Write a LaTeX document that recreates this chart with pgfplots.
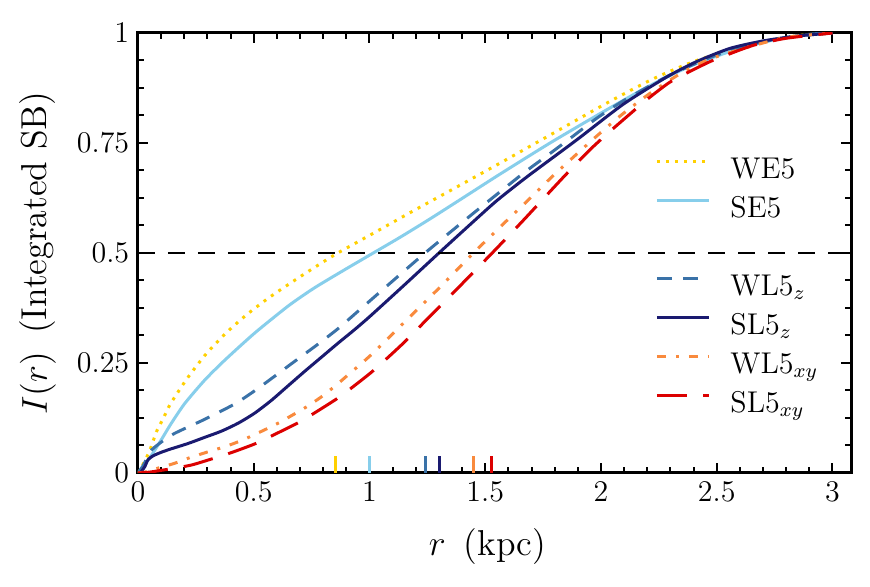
\documentclass[border=0pt]{standalone}
\usepackage{pgfplots}
\pgfplotsset{compat=1.18}
\definecolor{cWE}{RGB}{255,208,0}
\definecolor{cSE}{RGB}{135,206,235}
\definecolor{cWL}{RGB}{58,114,168}
\definecolor{cSL}{RGB}{26,26,112}
\definecolor{cWX}{RGB}{249,138,61}
\definecolor{cSX}{RGB}{220,0,0}
\newcommand\ls{\rule[-3.5pt]{0pt}{12.5pt}}
\begin{document}
\begin{tikzpicture}
\begin{axis}[
  at={(0pt,0pt)}, anchor=south west,
  scale only axis, width=285.2pt, height=176pt,
  xmin=0, xmax=3.08, ymin=0, ymax=1,
  xtick={0,0.5,1,1.5,2,2.5,3},
  xticklabels={0,0.5,1,1.5,2,2.5,3},
  ytick={0,0.25,0.5,0.75,1},
  yticklabels={0,0.25,0.5,0.75,1},
  minor x tick num=4, minor y tick num=3,
  major tick length=4pt, minor tick length=2.4pt,
  every tick/.style={black, line width=0.8pt},
  axis line style={line width=1.2pt},
  tick label style={font=\fontsize{12}{14}\selectfont},
  label style={font=\fontsize{14.4}{17}\selectfont},
  xlabel={$r$\enspace(kpc)},
  ylabel={$I(r)$\enspace(Integrated SB)},
  xlabel style={at={(axis description cs:0.49,-0.168)}, anchor=center},
  ylabel style={at={(axis description cs:-0.1403,0.5)}, anchor=center},
  legend image code/.code={\draw[#1] (0pt,3.2pt) -- (20.8pt,3.2pt);},
  legend cell align=left,
  legend style={draw=none, fill=none, inner sep=0pt,
    at={(rel axis cs:0.725,0.7216)}, anchor=north west,
    font=\fontsize{12}{14}\selectfont,
    nodes={inner sep=0pt},
    row sep=5.1pt, column sep=0pt,
    /tikz/every odd column/.append style={column sep=8pt}},
  clip=true,
]
\addplot[color=cWE, line width=1.2pt, dash pattern=on 1.2pt off 2.4pt, smooth, tension=0.4] coordinates {
(0,0) (0.02,0.018) (0.05,0.05) (0.08,0.094) (0.11,0.125) (0.14,0.157) (0.21,0.213) (0.29,0.268) (0.38,0.318) (0.47,0.36) (0.57,0.40) (0.7,0.446) (0.85,0.496) (1.0,0.54) (1.19,0.596) (1.36,0.645) (1.58,0.709) (1.81,0.777) (2.04,0.845) (2.23,0.897) (2.4,0.935) (2.55,0.96) (2.7,0.98) (2.85,0.994) (3.0,1.0)
};
\addlegendentry{\ls WE5}
\addplot[color=cSE, line width=1.2pt, smooth, tension=0.4] coordinates {
(0,0) (0.015,0.01) (0.03,0.02) (0.058,0.04) (0.1,0.075) (0.144,0.113) (0.202,0.158) (0.288,0.211) (0.374,0.256) (0.504,0.318) (0.65,0.38) (0.76,0.42) (0.88,0.458) (1.0,0.495) (1.13,0.535) (1.26,0.577) (1.4,0.624) (1.56,0.678) (1.78,0.75) (2.0,0.818) (2.21,0.88) (2.4,0.928) (2.6,0.965) (2.8,0.99) (3.0,1.0)
};
\addlegendentry{\ls SE5}
\addlegendimage{empty legend}
\addlegendentry{\ls}
\addplot[color=cWL, line width=1.2pt, dash pattern=on 6pt off 4.5pt, smooth, tension=0.4] coordinates {
(0,0) (0.02,0.015) (0.04,0.035) (0.058,0.052) (0.1,0.07) (0.158,0.09) (0.288,0.122) (0.418,0.157) (0.518,0.192) (0.662,0.248) (0.778,0.293) (0.864,0.328) (0.96,0.372) (1.06,0.418) (1.24,0.5) (1.448,0.59) (1.664,0.681) (1.772,0.723) (1.873,0.763) (1.981,0.806) (2.1,0.847) (2.3,0.905) (2.5,0.95) (2.7,0.98) (2.9,0.997) (3.0,1.0)
};
\addlegendentry{\ls WL5$_z$}
\addplot[color=cSL, line width=1.2pt, smooth, tension=0.4] coordinates {
(0.01,0) (0.029,0.014) (0.043,0.03) (0.065,0.039) (0.1,0.047) (0.144,0.055) (0.216,0.067) (0.288,0.081) (0.36,0.095) (0.432,0.113) (0.504,0.136) (0.576,0.165) (0.648,0.198) (0.72,0.231) (0.792,0.263) (0.864,0.295) (0.936,0.326) (1.002,0.356) (1.15,0.427) (1.3,0.5) (1.45,0.572) (1.55,0.619) (1.68,0.673) (1.895,0.757) (2.096,0.838) (2.284,0.9) (2.413,0.935) (2.557,0.965) (2.7,0.982) (2.845,0.993) (3.0,1.0)
};
\addlegendentry{\ls SL5$_z$}
\addplot[color=cWX, line width=1.2pt, dash pattern=on 3.6pt off 4pt on 1.2pt off 4pt, smooth, tension=0.4] coordinates {
(0,0) (0.04,0.003) (0.086,0.011) (0.158,0.022) (0.23,0.036) (0.302,0.048) (0.382,0.061) (0.461,0.077) (0.59,0.109) (0.662,0.13) (0.727,0.15) (0.792,0.173) (0.857,0.2) (0.914,0.226) (0.972,0.252) (1.03,0.28) (1.19,0.363) (1.3,0.42) (1.449,0.5) (1.58,0.567) (1.693,0.624) (1.794,0.676) (1.967,0.759) (2.089,0.814) (2.212,0.863) (2.341,0.907) (2.471,0.941) (2.65,0.97) (2.8,0.99) (3.0,1.0)
};
\addlegendentry{\ls WL5$_{xy}$}
\addplot[color=cSX, line width=1.2pt, dash pattern=on 12pt off 6.5pt, smooth, tension=0.4] coordinates {
(0,0) (0.05,0.002) (0.1,0.006) (0.16,0.011) (0.23,0.018) (0.288,0.027) (0.396,0.045) (0.504,0.066) (0.576,0.084) (0.684,0.112) (0.749,0.132) (0.857,0.168) (0.914,0.19) (1.015,0.232) (1.14,0.292) (1.261,0.356) (1.4,0.43) (1.53,0.5) (1.664,0.574) (1.837,0.672) (1.953,0.735) (2.053,0.783) (2.197,0.848) (2.291,0.886) (2.355,0.905) (2.471,0.935) (2.543,0.95) (2.658,0.972) (2.8,0.988) (3.0,1.0)
};
\addlegendentry{\ls SL5$_{xy}$}
% half-light radii markers
\addplot[forget plot, color=cWE, line width=1.2pt] coordinates {(0.851,0) (0.851,0.039)};
\addplot[forget plot, color=cSE, line width=1.2pt] coordinates {(0.999,0) (0.999,0.039)};
\addplot[forget plot, color=cWL, line width=1.2pt] coordinates {(1.240,0) (1.240,0.039)};
\addplot[forget plot, color=cSL, line width=1.2pt] coordinates {(1.302,0) (1.302,0.039)};
\addplot[forget plot, color=cWX, line width=1.2pt] coordinates {(1.449,0) (1.449,0.039)};
\addplot[forget plot, color=cSX, line width=1.2pt] coordinates {(1.528,0) (1.528,0.039)};
% 0.5 reference line
\addplot[forget plot, black, line width=1pt, dash pattern=on 6.8pt off 5.2pt] coordinates {(0,0.5) (3.08,0.5)};
\end{axis}
\pgfresetboundingbox
\path[use as bounding box] (-55.2pt,-45.6pt) rectangle (292.8pt,189.2pt);
\end{tikzpicture}
\end{document}
